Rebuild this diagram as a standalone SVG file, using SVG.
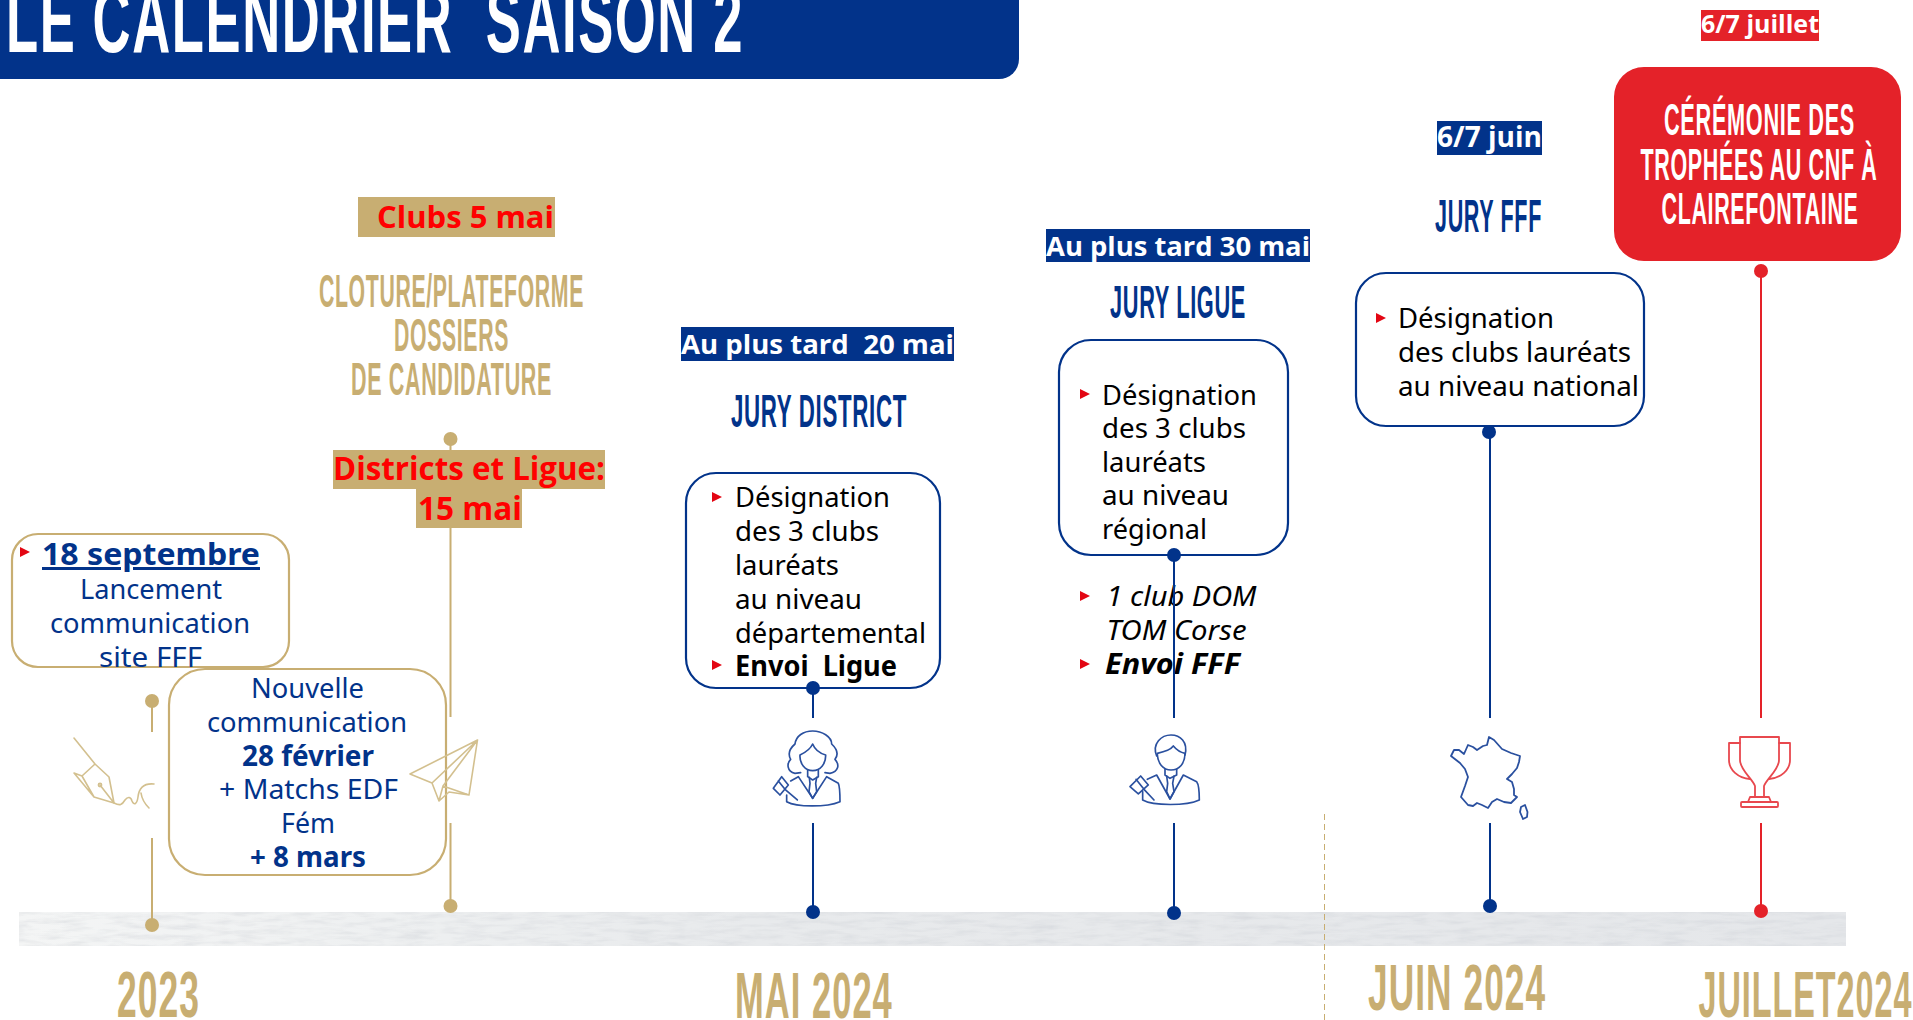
<svg xmlns="http://www.w3.org/2000/svg" width="1913" height="1020" viewBox="0 0 1913 1020">
<style>
text{white-space:pre}
.d{font-family:"Liberation Sans",sans-serif;font-weight:700;letter-spacing:.03em}
.gold{fill:#c8ae72}
.navy{fill:#02338a}
.white{fill:#fff}
.b{font-family:"Noto Sans","Open Sans",sans-serif;font-size:28px}
.bk{fill:#000}
.nt{fill:#02338a}
.bd{font-weight:700}
.it{font-style:italic}
.l{font-family:"Open Sans","Noto Sans",sans-serif;font-weight:700}
.red{fill:#f00}
.wh{fill:#fff}
.box{fill:#fff;stroke-width:2.2}
.ngb{stroke:#02338a}
.ggb{stroke:#c8ae72}
.cg{stroke:#c8ae72;stroke-width:2;fill:none}
.cn{stroke:#02338a;stroke-width:2;fill:none}
.cr{stroke:#e42229;stroke-width:2;fill:none}
.dg{fill:#c8ae72}.dn{fill:#02338a}.dr{fill:#e42229}
.ic{fill:none;stroke-linejoin:round;stroke-linecap:round}
</style>
<defs>
<filter id="tex" x="0" y="0" width="100%" height="100%">
<feTurbulence type="fractalNoise" baseFrequency="0.035 0.2" numOctaves="4" seed="11"/>
<feColorMatrix values="0 0 0 0 .6 0 0 0 0 .62 0 0 0 0 .66 .9 0 0 0 -.36"/>
<feComposite in2="SourceGraphic" operator="in" result="n"/>
<feMerge><feMergeNode in="SourceGraphic"/><feMergeNode in="n"/></feMerge>
</filter>
<linearGradient id="fade" x1="0" x2="1" y1="0" y2="0">
<stop offset="0" stop-color="#f4f5f5"/><stop offset=".2" stop-color="#eef0f1"/><stop offset=".4" stop-color="#e8eaec"/><stop offset="1" stop-color="#e5e7ea"/>
</linearGradient>
<path id="tri" d="M0 -5L10 0L0 5Z" fill="#e30613"/>
</defs>

<g id="banner">
<path d="M0 0H1019V59A20 20 0 0 1 999 79H0Z" fill="#02338a"/>
<text class="d white" transform="translate(6 52) scale(.6 1)" font-size="92" textLength="1230" lengthAdjust="spacingAndGlyphs">LE CALENDRIER  SAISON 2</text>
</g>

<g id="timeline-strip"><rect x="19" y="912" width="1827" height="34" fill="url(#fade)" filter="url(#tex)"/></g>
<line id="separator" x1="1324.5" y1="814" x2="1324.5" y2="1020" stroke="#c8ae72" stroke-width="1" stroke-dasharray="6 4"/>

<g id="connectors">
<path class="cg" d="M152 701V732M152 838V925"/>
<path class="cg" d="M450.5 439V450M450.5 528V717M450.5 823V906"/>
<path class="cn" d="M813 688V718M813 823V912"/>
<path class="cn" d="M1174 823V913"/>
<path class="cn" d="M1490 432V718M1490 823V906"/>
<path class="cr" d="M1761 271V718M1761 823V911"/>
<ellipse class="dg" cx="152" cy="701" rx="7" ry="7"/>
<ellipse class="dg" cx="152" cy="925" rx="7" ry="7"/>
<ellipse class="dg" cx="450.5" cy="439" rx="7" ry="7"/>
<ellipse class="dg" cx="450.5" cy="906" rx="7" ry="7"/>
<ellipse class="dn" cx="813" cy="912" rx="7" ry="7"/>
<ellipse class="dn" cx="1174" cy="913" rx="7" ry="7"/>
<ellipse class="dn" cx="1490" cy="906" rx="7" ry="7"/>
<ellipse class="dr" cx="1761" cy="911" rx="7" ry="7"/>
<ellipse class="dr" cx="1761" cy="271" rx="7" ry="7"/>
<ellipse class="dn" cx="1489" cy="432" rx="7" ry="7"/>
</g>

<g id="node-septembre">
<rect class="box ggb" x="12" y="534" width="277" height="133" rx="26"/>
<use href="#tri" x="20" y="552"/>
<text class="b bd nt" x="42" y="565" style="font-size:30px;text-decoration:underline" textLength="218" lengthAdjust="spacingAndGlyphs">18 septembre</text>
<text class="b nt" x="80" y="599" textLength="142" lengthAdjust="spacingAndGlyphs">Lancement</text>
<text class="b nt" x="50" y="633" textLength="200" lengthAdjust="spacingAndGlyphs">communication</text>
<text class="b nt" x="99" y="667" textLength="103" lengthAdjust="spacingAndGlyphs">site FFF</text>
</g>

<g id="node-nouvelle">
<rect class="box ggb" x="169" y="669" width="277" height="206" rx="36"/>
<text class="b nt" x="251" y="698" textLength="113" lengthAdjust="spacingAndGlyphs">Nouvelle</text>
<text class="b nt" x="207" y="732" textLength="200" lengthAdjust="spacingAndGlyphs">communication</text>
<text class="b bd nt" x="242" y="766" textLength="132" lengthAdjust="spacingAndGlyphs">28 février</text>
<text class="b nt" x="219" y="799" textLength="179" lengthAdjust="spacingAndGlyphs">+ Matchs EDF</text>
<text class="b nt" x="281" y="833" textLength="54" lengthAdjust="spacingAndGlyphs">Fém</text>
<text class="b bd nt" x="250" y="867" textLength="116" lengthAdjust="spacingAndGlyphs">+ 8 mars</text>
</g>

<g id="icon-pen" class="ic" stroke="#d3c08f" stroke-width="1.6">
<path d="M74 738L95 764L82 776L74 773L94 797L114 803L109 777L95 764M82 776L94 797M100 785L114 803"/>
<circle cx="100" cy="785" r="1.6"/>
<path d="M114 803C120 806 122 805 125 800C128 796 131 797 132 801C134 806 137 804 138 797C139 788 144 783 154 784M141 793C142 800 145 804 149 808"/>
</g>
<g id="icon-plane" class="ic" stroke="#d3c08f" stroke-width="1.6">
<path d="M477.5 740L410 774L432 783L439 801L449 792L469 795ZM477.5 740L432 783M477.5 740L443 786L469 795M443 786L439 801"/>
</g>

<g id="node-clubs-date">
<rect x="358" y="197" width="197" height="40" fill="#c8ae72"/>
<text class="l red" x="377" y="228" font-size="30" textLength="177" lengthAdjust="spacingAndGlyphs">Clubs 5 mai</text>
</g>
<g id="node-cloture">
<text class="d gold" transform="translate(319 306.5) scale(.5 1)" font-size="46" textLength="530" lengthAdjust="spacingAndGlyphs">CLOTURE/PLATEFORME</text>
<text class="d gold" transform="translate(394 351) scale(.5 1)" font-size="46" textLength="230" lengthAdjust="spacingAndGlyphs">DOSSIERS</text>
<text class="d gold" transform="translate(351 395) scale(.5 1)" font-size="46" textLength="402" lengthAdjust="spacingAndGlyphs">DE CANDIDATURE</text>
</g>
<g id="node-districts-date">
<rect x="333" y="450" width="272" height="39" fill="#c8ae72"/>
<rect x="416" y="489" width="106" height="39" fill="#c8ae72"/>
<text class="l red" x="333" y="480" font-size="32" textLength="272" lengthAdjust="spacingAndGlyphs">Districts et Ligue:</text>
<text class="l red" x="418" y="520" font-size="32" textLength="104" lengthAdjust="spacingAndGlyphs">15 mai</text>
</g>

<g id="node-jury-district">
<rect x="681" y="327" width="273" height="34" fill="#02338a"/>
<text class="l wh" x="681" y="353.5" font-size="27" textLength="273" lengthAdjust="spacingAndGlyphs">Au plus tard  20 mai</text>
<text class="d navy" transform="translate(731 427) scale(.5 1)" font-size="46" textLength="352" lengthAdjust="spacingAndGlyphs">JURY DISTRICT</text>
<rect class="box ngb" x="686" y="473" width="254" height="215" rx="30"/>
<use href="#tri" x="712" y="497"/>
<text class="b bk" x="735" y="507" textLength="155" lengthAdjust="spacingAndGlyphs">Désignation</text>
<text class="b bk" x="735" y="541" textLength="144" lengthAdjust="spacingAndGlyphs">des 3 clubs</text>
<text class="b bk" x="735" y="575" textLength="104" lengthAdjust="spacingAndGlyphs">lauréats</text>
<text class="b bk" x="735" y="608.5" textLength="127" lengthAdjust="spacingAndGlyphs">au niveau</text>
<text class="b bk" x="735" y="642.5" textLength="191" lengthAdjust="spacingAndGlyphs">départemental</text>
<use href="#tri" x="712" y="665"/>
<text class="b bd bk" x="735" y="676" textLength="162" lengthAdjust="spacingAndGlyphs">Envoi  Ligue</text>
<ellipse class="dn" cx="813" cy="688" rx="7" ry="7"/>
</g>
<g id="icon-judge-woman" class="ic" stroke="#2a509f" stroke-width="5" transform="translate(760 720) scale(.3333)">
<path d="M122 158L105 160C80 155 80 130 92 118C82 100 90 85 105 72C108 48 130 33 158 33C186 33 215 50 215 72C232 88 235 105 225 118C240 135 235 155 210 160L195 158"/>
<path d="M158 72C150 90 135 98 120 105C118 130 135 152 158 152C182 152 198 130 197 105C180 100 165 90 158 72Z"/>
<path d="M143 150V170L158 180L175 170V150"/>
<path d="M92 183L115 170L158 235L200 170L235 190C240 200 240 225 240 245C200 262 110 262 80 245V225"/>
<path d="M148 172L150 190L147 215L158 235L170 215L167 190L170 172"/>
<path d="M65 170L85 195L60 225L40 205ZM55 183L75 208M75 208L112 240"/>
</g>

<g id="node-jury-ligue">
<rect x="1046" y="229" width="264" height="33" fill="#02338a"/>
<text class="l wh" x="1046" y="256" font-size="27" textLength="264" lengthAdjust="spacingAndGlyphs">Au plus tard 30 mai</text>
<text class="d navy" transform="translate(1110 318) scale(.5 1)" font-size="46" textLength="272" lengthAdjust="spacingAndGlyphs">JURY LIGUE</text>
<rect class="box ngb" x="1059" y="340" width="229" height="215" rx="32"/>
<use href="#tri" x="1080" y="394"/>
<text class="b bk" x="1102" y="404.5" textLength="155" lengthAdjust="spacingAndGlyphs">Désignation</text>
<text class="b bk" x="1102" y="438" textLength="144" lengthAdjust="spacingAndGlyphs">des 3 clubs</text>
<text class="b bk" x="1102" y="471.5" textLength="104" lengthAdjust="spacingAndGlyphs">lauréats</text>
<text class="b bk" x="1102" y="505" textLength="127" lengthAdjust="spacingAndGlyphs">au niveau</text>
<text class="b bk" x="1102" y="538.5" textLength="105" lengthAdjust="spacingAndGlyphs">régional</text>
<use href="#tri" x="1080" y="596"/>
<text class="b bk it" x="1106.5" y="606" textLength="150" lengthAdjust="spacingAndGlyphs">1 club DOM</text>
<text class="b bk it" x="1106.5" y="640" textLength="140" lengthAdjust="spacingAndGlyphs">TOM Corse</text>
<use href="#tri" x="1080" y="664"/>
<text class="b bd bk it" x="1105" y="674" textLength="135" lengthAdjust="spacingAndGlyphs">Envoi FFF</text>
<path class="cn" d="M1174 555V718"/>
<ellipse class="dn" cx="1174" cy="555" rx="7" ry="7"/>
</g>
<g id="icon-judge-man" class="ic" stroke="#2a509f" stroke-width="5" transform="translate(1120 720) scale(.3333)">
<path d="M110 108C95 70 125 45 153 45C180 45 205 65 195 105"/>
<path d="M112 100C135 95 155 85 160 78C170 90 185 98 195 100C195 130 178 150 153 150C130 150 112 130 112 100Z"/>
<path d="M135 148V165L150 175L170 165V148"/>
<path d="M82 178L110 165L150 237L190 165L230 185C238 195 238 225 238 240C200 258 100 258 68 240V215"/>
<path d="M140 168L143 190L140 215L150 237L162 215L158 190L162 168"/>
<path d="M62 168L85 195L55 222L30 200ZM48 178L72 208M72 208L102 240"/>
</g>

<g id="node-jury-fff">
<rect x="1437" y="121" width="105" height="34" fill="#02338a"/>
<text class="l wh" x="1437" y="147" font-size="28" textLength="105" lengthAdjust="spacingAndGlyphs">6/7 juin</text>
<text class="d navy" transform="translate(1435 232) scale(.5 1)" font-size="46" textLength="214" lengthAdjust="spacingAndGlyphs">JURY FFF</text>
<rect class="box ngb" x="1356" y="273" width="288" height="153" rx="30"/>
<use href="#tri" x="1376" y="318"/>
<text class="b bk" x="1398" y="328" textLength="156" lengthAdjust="spacingAndGlyphs">Désignation</text>
<text class="b bk" x="1398" y="362" textLength="233" lengthAdjust="spacingAndGlyphs">des clubs lauréats</text>
<text class="b bk" x="1398" y="396" textLength="241" lengthAdjust="spacingAndGlyphs">au niveau national</text>
</g>
<g id="icon-france" class="ic" stroke="#2a509f" stroke-width="1.8">
<path d="M1489 737L1494 740L1502 749L1511 753L1520 756L1519 762L1517 768L1512 774L1507 779L1512 782L1514 789L1514 795L1517 797L1511 803L1504 802L1497 799L1492 802L1488 808L1482 805L1477 803L1473 806L1468 805L1461 797L1465 786L1468 777L1465 769L1460 763L1451 756L1454 750L1459 750L1464 754L1468 745L1473 747L1477 750L1483 746L1487 745Z"/>
<path d="M1525 805L1527.5 812L1527 817L1523 819L1520 812L1521 807Z"/>
</g>
<g id="icon-trophy" class="ic" stroke="#e8484e" stroke-width="1.8">
<path d="M1740 737H1779V760C1779 770 1767 778 1764 786V797M1740 737V760C1740 770 1752 778 1755 786V797"/>
<path d="M1740 743H1729V760C1729 770 1738 778 1750 779M1779 743H1790V760C1790 770 1781 778 1769 779M1748 802L1750 797H1769L1771 802"/>
<rect x="1741" y="802" width="37" height="5" rx="1"/>
</g>

<g id="node-ceremonie">
<rect x="1701" y="10" width="118" height="31" fill="#e42229"/>
<text class="l wh" x="1701" y="33" font-size="25" textLength="118" lengthAdjust="spacingAndGlyphs">6/7 juillet</text>
<rect x="1614" y="67" width="287" height="194" rx="30" fill="#e42229"/>
<text class="d white" transform="translate(1664 135) scale(.5 1)" font-size="45" textLength="382" lengthAdjust="spacingAndGlyphs">CÉRÉMONIE DES</text>
<text class="d white" transform="translate(1640.5 180) scale(.5 1)" font-size="45" textLength="474" lengthAdjust="spacingAndGlyphs">TROPHÉES AU CNF À</text>
<text class="d white" transform="translate(1661.5 224) scale(.5 1)" font-size="45" textLength="394" lengthAdjust="spacingAndGlyphs">CLAIREFONTAINE</text>
</g>

<g id="years">
<text class="d gold" transform="translate(117 1017) scale(.55 1)" font-size="64" textLength="151" lengthAdjust="spacingAndGlyphs">2023</text>
<text class="d gold" transform="translate(735 1018) scale(.55 1)" font-size="64" textLength="287" lengthAdjust="spacingAndGlyphs">MAI 2024</text>
<text class="d gold" transform="translate(1368 1010) scale(.55 1)" font-size="64" textLength="324" lengthAdjust="spacingAndGlyphs">JUIN 2024</text>
<text class="d gold" transform="translate(1698.5 1017) scale(.55 1)" font-size="64" textLength="389" lengthAdjust="spacingAndGlyphs">JUILLET2024</text>
</g>
</svg>
